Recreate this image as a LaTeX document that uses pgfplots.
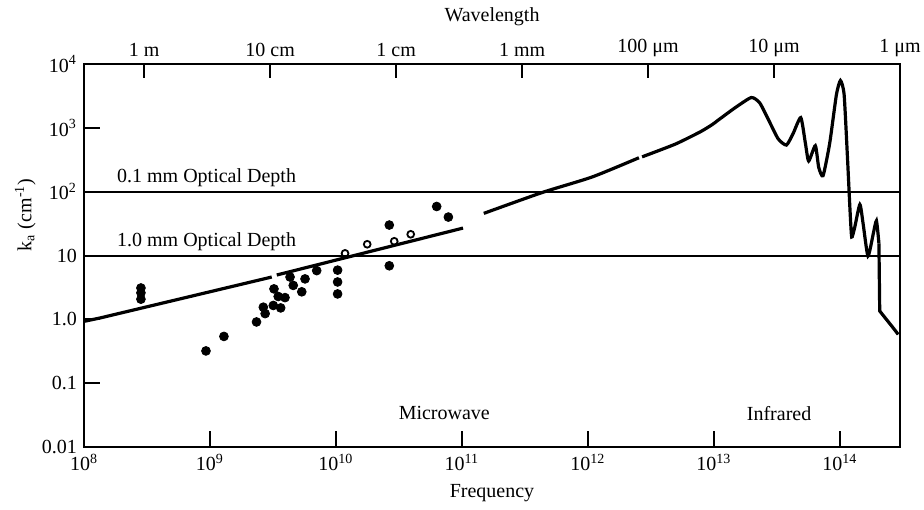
\documentclass[border=0pt]{standalone}
\usepackage{fontspec}
\setmainfont{Liberation Serif}
\usepackage{pgfplots}
\pgfplotsset{compat=1.18}
\begin{document}
\begin{tikzpicture}
\useasboundingbox (0,0) rectangle (462pt,254.5pt);
\begin{axis}[
  at={(42pt,31pt)}, anchor=south west,
  scale only axis, width=408pt, height=191.5pt,
  xmode=log, ymode=log,
  xmin=1e8, xmax=3e14, ymin=0.01, ymax=1e4,
  xtick={1e8,1e9,1e10,1e11,1e12,1e13,1e14},
  xticklabels={10\textsuperscript{8},10\textsuperscript{9},10\textsuperscript{10},10\textsuperscript{11},10\textsuperscript{12},10\textsuperscript{13},10\textsuperscript{14}},
  ytick={0.01,0.1,1,10,100,1000,10000},
  yticklabels={0.01,0.1,1.0,10,10\textsuperscript{2},10\textsuperscript{3},10\textsuperscript{4}},
  xtick pos=lower, ytick pos=left,
  tick align=inside, major tick length=8pt,
  xminorticks=false, yminorticks=false,
  axis line style={line width=1pt},
  every tick/.style={black, line width=0.9pt},
  xlabel={Frequency},
  ylabel={k\textsubscript{a} (cm\textsuperscript{-1})},
  ylabel style={at={(rel axis cs:-0.072,0.606)}, anchor=center},
  font=\normalsize,
]
% optical depth reference lines
\addplot[black, line width=1pt] coordinates {(1e8,100) (3e14,100)};
\addplot[black, line width=1pt] coordinates {(1e8,10) (3e14,10)};
% absorption curve
\addplot[black, line width=1.6pt] coordinates {(1e8,0.93) (1.34e8,1.05) (3.09e9,4.6)};
\addplot[black, line width=1.6pt] coordinates {(3.39e9,4.95) (1.02e11,26.9)};
\addplot[black, line width=1.6pt, smooth, tension=0.4] coordinates {(1.49e11,45.7) (4.33e11,97) (1.08e12,170) (2.54e12,340)};
\addplot[black, line width=1.6pt, smooth, tension=0.35] coordinates {
(2.69e12,351) (4.95e12,557) (7.83e12,870) (9.70e12,1125) (1.08e13,1318) (1.46e13,2040)
(1.98e13,2985) (2.31e13,2455) (2.69e13,1380) (3.23e13,676) (3.76e13,537) (4.25e13,813)
(4.89e13,1445) (5.32e13,575) (5.65e13,302) (6.38e13,525) (6.79e13,240) (7.35e13,178)
(8.30e13,575) (9.38e13,3311) (1.01e14,5500) (1.08e14,3311) (1.15e14,320) (1.20e14,56)
(1.24e14,19.5) (1.31e14,27.5) (1.44e14,63) (1.53e14,31) (1.67e14,9.8) (1.84e14,22)
(1.95e14,35) (2.04e14,15.5)};
\addplot[black, line width=1.6pt] coordinates {(2.04e14,15.5) (2.07e14,1.35) (2.73e14,0.68) (2.9e14,0.58)};
% measured points (filled)
\addplot[only marks, mark=*, mark size=2.2pt, black] coordinates {
(2.83e8,3.1) (2.83e8,2.6) (2.83e8,2.07)
(9.29e8,0.32) (1.29e9,0.54) (2.34e9,0.91) (2.74e9,1.23) (2.65e9,1.55)
(3.18e9,1.65) (3.64e9,1.51) (3.22e9,3.0) (3.48e9,2.28) (3.94e9,2.19)
(4.32e9,4.6) (4.58e9,3.4) (5.68e9,4.3) (5.35e9,2.7) (7.03e9,5.8)
(1.03e10,5.9) (1.03e10,3.85) (1.03e10,2.5)
(2.65e10,30) (2.65e10,6.9) (6.30e10,58.6) (7.80e10,40)};
% measured points (open)
\addplot[only marks, mark=o, mark size=1.7pt, line width=0.9pt, black] coordinates {
(1.18e10,10.8) (1.77e10,15) (2.9e10,16.7) (3.92e10,21.5)};
\node[anchor=base west] at (axis cs:1.61e8,100) [yshift=4.5pt] {0.1 mm Optical Depth};
\node[anchor=base west] at (axis cs:1.61e8,10) [yshift=4.5pt] {1.0 mm Optical Depth};
\node at (axis cs:7.24e10,0.034) {Microwave};
\node at (axis cs:3.29e13,0.034) {Infrared};
\end{axis}
\begin{axis}[
  at={(42pt,31pt)}, anchor=south west,
  scale only axis, width=408pt, height=191.5pt,
  xmode=log, ymode=log,
  xmin=1e8, xmax=3e14, ymin=0.01, ymax=1e4,
  xtick={3e8,3e9,3e10,3e11,3e12,3e13,3e14},
  xticklabels={1 m,10 cm,1 cm,1 mm,100 μm,10 μm,1 μm},
  xtick pos=upper, xticklabel pos=upper,
  ytick=\empty,
  xminorticks=false, yminorticks=false,
  axis line style={draw=none},
  tick align=inside, major tick length=7pt,
  every tick/.style={black, line width=0.9pt},
  xlabel={Wavelength},
]
\addplot[draw=none] coordinates {(1e9,1)};
\end{axis}
\end{tikzpicture}
\end{document}
